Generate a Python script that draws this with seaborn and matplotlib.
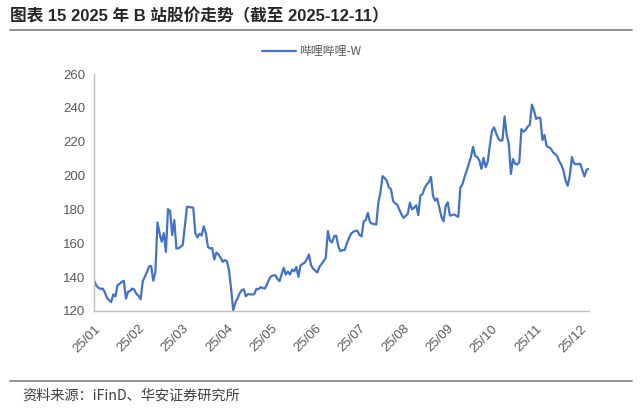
import numpy as np
import pandas as pd
import matplotlib
matplotlib.use("Agg")
import matplotlib.pyplot as plt
from matplotlib.lines import Line2D
import seaborn as sns

# 哔哩哔哩-W 收盘价（按交易日，2025-01-02 ~ 2025-12-11，从图上读取）
price = [
    137.6, 134.8, 133.6, 133.0, 133.2, 130.9, 127.7, 126.3, 125.3, 129.7,
    128.5, 135.2, 136.0, 137.2, 137.8, 127.3, 131.3, 131.8, 133.2, 132.5,
    130.0, 128.9, 126.9, 137.6, 140.2, 143.0, 146.2, 146.6, 137.8, 143.1,
    172.3, 165.8, 160.9, 166.0, 154.9, 180.2, 179.0, 164.8, 173.7, 156.9,
    157.0, 157.9, 159.0, 170.0, 181.6, 181.5, 181.2, 181.0, 166.0, 163.5,
    165.6, 164.6, 170.0, 166.0, 157.8, 156.9, 157.2, 150.4, 154.5, 153.4,
    151.5, 149.0, 150.0, 149.4, 144.0, 133.0, 120.4, 124.8, 127.3, 130.3,
    132.2, 132.8, 128.7, 129.9, 129.8, 129.7, 129.9, 133.0, 132.8, 134.0,
    133.6, 133.2, 135.5, 138.5, 140.5, 140.9, 141.1, 139.0, 137.6, 141.5,
    145.5, 141.5, 143.3, 141.5, 144.5, 143.3, 146.1, 140.1, 146.9, 147.8,
    148.5, 150.5, 153.3, 147.0, 145.0, 143.8, 142.7, 146.1, 147.7, 149.5,
    151.3, 167.2, 161.5, 160.5, 164.2, 164.4, 158.0, 155.3, 155.9, 156.0,
    159.8, 163.0, 165.6, 166.7, 167.3, 167.4, 165.0, 164.0, 172.8, 173.7,
    178.0, 172.5, 171.6, 171.3, 171.1, 184.0, 190.2, 199.7, 198.5, 197.0,
    193.0, 192.0, 185.0, 183.6, 182.8, 179.8, 177.0, 175.0, 176.2, 177.5,
    184.0, 180.0, 181.0, 182.5, 176.7, 188.3, 189.0, 192.8, 194.8, 196.2,
    199.3, 188.0, 185.2, 186.5, 181.0, 175.5, 173.0, 182.0, 184.2, 176.3,
    176.7, 177.0, 176.3, 175.6, 193.0, 195.0, 199.3, 203.0, 207.0, 211.0,
    217.0, 211.7, 211.0, 209.0, 204.0, 210.5, 205.0, 208.2, 218.0, 226.5,
    228.5, 225.0, 222.0, 220.6, 221.0, 235.0, 224.0, 219.0, 201.0, 209.8,
    207.0, 206.5, 208.0, 227.5, 226.0, 227.0, 229.0, 230.0, 242.0, 238.5,
    233.5, 234.3, 234.0, 221.0, 224.0, 217.5, 216.8, 216.0, 213.8, 212.8,
    211.5, 208.5, 206.3, 203.0, 197.0, 194.0, 200.0, 211.0, 207.2, 206.7,
    206.8, 207.0, 203.0, 199.5, 203.5, 204.0,
]
month_labels = ['25/01', '25/02', '25/03', '25/04', '25/05', '25/06',
                '25/07', '25/08', '25/09', '25/10', '25/11', '25/12']
y_ticks = [120, 140, 160, 180, 200, 220, 240, 260]

df = pd.DataFrame({'day': np.arange(len(price)), 'price': price})

sns.set_style('white')
plt.rcParams['font.family'] = ['Liberation Sans', 'Noto Sans CJK SC', 'DejaVu Sans']

grey = '#595959'
fig = plt.figure(figsize=(6.42, 4.19), dpi=100)
ax = fig.add_axes([0.147, 0.258, 0.770, 0.565])

sns.lineplot(data=df, x='day', y='price', ax=ax, color='#4472C4',
             linewidth=1.6, label='哔哩哔哩-W')

ax.set_xlim(0, len(price) - 1)
ax.set_ylim(120, 260)
ax.set_yticks(y_ticks)
ax.set_yticklabels([str(v) for v in y_ticks])
tick_pos = np.arange(0, len(price), 21)
ax.set_xticks(tick_pos)
ax.set_xticklabels(month_labels, rotation=45, ha='right', va='top',
                   rotation_mode='anchor')
ax.set_xlabel('')
ax.set_ylabel('')

for side in ['top', 'right']:
    ax.spines[side].set_visible(False)
for side in ['left', 'bottom']:
    ax.spines[side].set_color('#BFBFBF')
    ax.spines[side].set_linewidth(1.0)
ax.tick_params(axis='both', direction='out', length=3.5, width=1.0,
               color='#BFBFBF', labelsize=9.5, labelcolor=grey, pad=3)
ax.tick_params(axis='x', pad=5)

leg = ax.legend(loc='center', bbox_to_anchor=(0.486, 0.876),
                bbox_transform=fig.transFigure, frameon=False,
                fontsize=8.6, handlelength=2.8, handletextpad=0.3)
for t in leg.get_texts():
    t.set_color(grey)
    t.set_family(['Noto Sans CJK SC', 'DejaVu Sans'])

fig.text(0.016, 0.962, '图表 15 2025 年 B 站股价走势（截至 2025-12-11）',
         fontsize=12, fontweight='bold', va='center', ha='left',
         family=['Liberation Sans', 'Noto Sans CJK SC'])
fig.add_artist(Line2D([0.016, 0.984], [0.928, 0.928], color='#7F7F7F',
                      linewidth=1.2, transform=fig.transFigure))
fig.add_artist(Line2D([0.016, 0.984], [0.091, 0.091], color='#7F7F7F',
                      linewidth=1.2, transform=fig.transFigure))
fig.text(0.034, 0.057, '资料来源：iFinD、华安证券研究所', fontsize=10.2,
         color='#404040', va='center', ha='left',
         family=['Noto Sans CJK SC', 'Liberation Sans'])

fig.savefig('out.png', dpi=100)
